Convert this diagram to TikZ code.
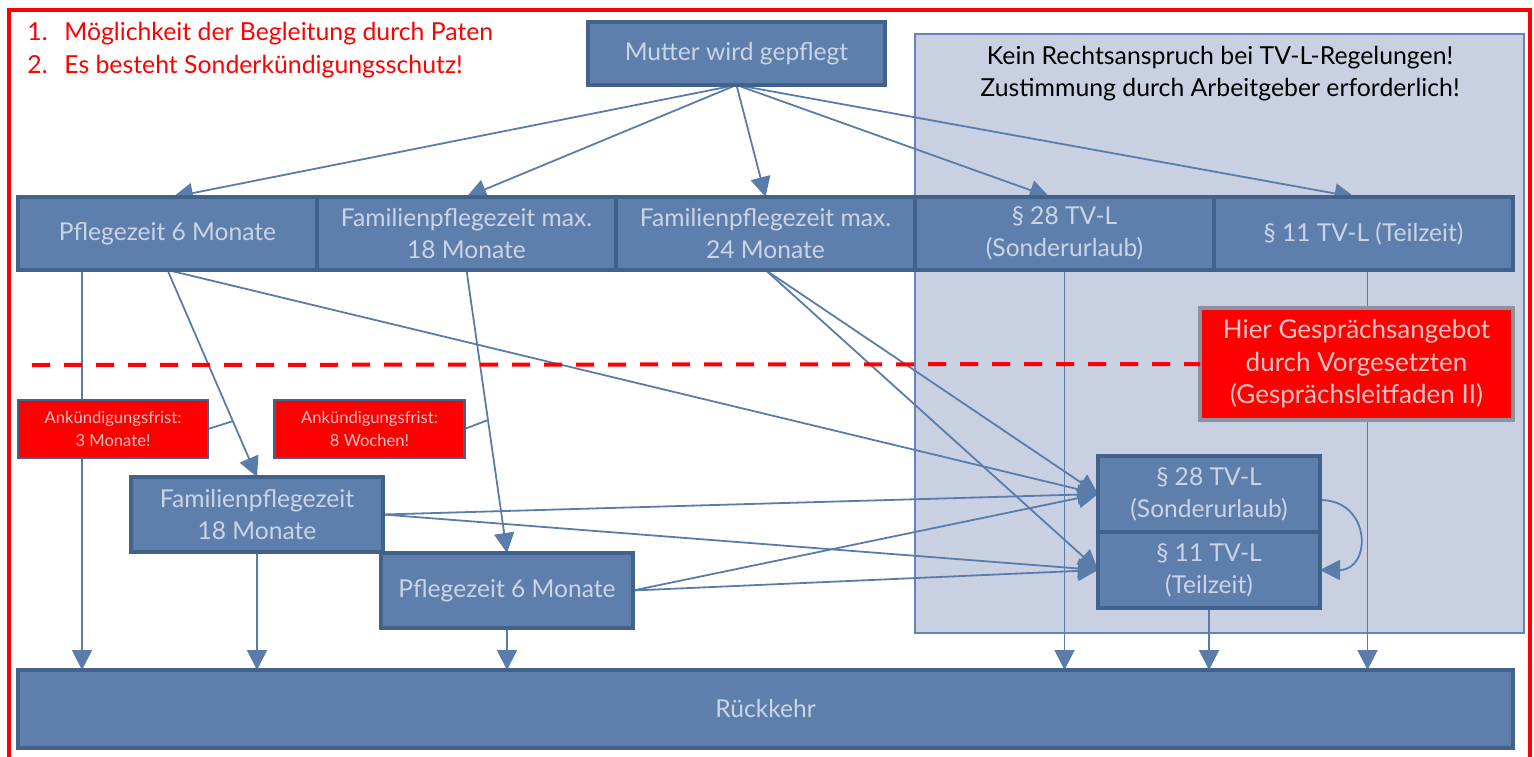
\documentclass[tikz,border=0pt]{standalone}
\usepackage{fontspec}
\setmainfont{Lato}
\usetikzlibrary{arrows.meta, positioning, calc}

\definecolor{boxfill}{HTML}{5E7FAB}
\definecolor{boxline}{HTML}{42618B}
\definecolor{boxtext}{HTML}{CAD4E6}
\definecolor{linecol}{HTML}{5A7CAB}
\definecolor{panelfill}{HTML}{C9D0E2}
\definecolor{panelline}{HTML}{6685B5}
\definecolor{notetext}{HTML}{F2C4C4}
\definecolor{talkline}{HTML}{8C939E}

\pgfdeclarelayer{panel}
\pgfdeclarelayer{links}
\pgfsetlayers{panel,links,main}

\tikzset{
    box/.style={draw=boxline, fill=boxfill, line width=1.6pt, outer sep=0pt, inner sep=0pt, text=boxtext, align=center, font=\fontsize{12.3}{16}\selectfont},
    row/.style={box, minimum width=149.5pt, minimum height=36.5pt},
    note/.style={box, fill=red, line width=1.4pt, minimum width=95pt, minimum height=29pt, text=notetext, font=\fontsize{8.3}{11.5}\selectfont},
    link/.style={draw=linecol, line width=0.9pt},
    arr/.style={link, -{Triangle[length=10pt, width=10pt]}},
}

\begin{document}
\begin{tikzpicture}[x=0.5pt, y=-0.5pt]
    \useasboundingbox (0,0) rectangle (1534,756);
    % Frame
    \draw[red, line width=2pt] (9,10) rectangle (1530,775);

    % Remarks top left
    \node[anchor=west, text=red, align=left, inner sep=0pt, font=\fontsize{12.4}{16.5}\selectfont] (list) at (27,50)
        {\makebox[18.5pt][l]{1.}Möglichkeit der Begleitung durch Paten\\\makebox[18.5pt][l]{2.}Es besteht Sonderkündigungsschutz!};

    % TV-L area
    \begin{pgfonlayer}{panel}
        \node[draw=panelline, fill=panelfill, line width=1.4pt, minimum width=304.5pt, minimum height=299.5pt] (panel) at (1219.5,333.5) {};
    \end{pgfonlayer}
    \node[align=center, inner sep=0pt, font=\fontsize{12.4}{16}\selectfont] (hint) at (1220,74)
        {Kein Rechtsanspruch bei TV-L-Regelungen!\\Zustimmung durch Arbeitgeber erforderlich!};

    % Start
    \node[box, minimum width=148.5pt, minimum height=31.5pt] (mutter) at (736.5,53.5) {Mutter wird gepflegt};

    % First choice
    \node[row] (pz) at (167.5,233.5) {Pflegezeit 6 Monate};
    \node[row, right=0pt of pz] (fpz18) {Familienpflegezeit max.\\18 Monate};
    \node[row, right=0pt of fpz18] (fpz24) {Familienpflegezeit max.\\24 Monate};
    \node[row, right=0pt of fpz24] (tv28) {§ 28 TV-L\\(Sonderurlaub)};
    \node[row, right=0pt of tv28] (tv11) {§ 11 TV-L (Teilzeit)};

    % Follow-ups
    \node[note] (frist1) at (113,429) {Ankündigungsfrist:\\3 Monate!};
    \node[note] (frist2) at (369.5,429) {Ankündigungsfrist:\\8 Wochen!};
    \node[box, minimum width=126pt, minimum height=37.5pt] (fpzneu) at (257,514.5) {Familienpflegezeit\\18 Monate};
    \node[box, minimum width=126pt, minimum height=37.5pt] (pzneu) at (507,590.5) {Pflegezeit 6 Monate};
    \node[box, minimum width=111pt, minimum height=38pt] (sonder) at (1209,494) {§ 28 TV-L\\(Sonderurlaub)};
    \node[box, minimum width=111pt, minimum height=38pt, below=0pt of sonder] (teil) {§ 11 TV-L\\(Teilzeit)};
    \node[box, fill=red, draw=talkline, text=notetext, minimum width=156.5pt, minimum height=56pt, font=\fontsize{13}{16.25}\selectfont] (talk) at (1356.5,364)
        {Hier Gesprächsangebot\\durch Vorgesetzten\\(Gesprächsleitfaden II)};

    % End
    \node[box, minimum width=747.5pt, minimum height=39pt] (rk) at (765.5,709) {Rückkehr};

    % Dashed limit
    \coordinate (cut) at (32,365);
    \draw[red, line width=2pt, dash pattern=on 9pt off 7pt] (cut) -- (talk.west);

    \begin{pgfonlayer}{links}
        % from Mutter
        \draw[arr] (mutter.south) -- ([xshift=2.75pt]pz.north);
        \draw[arr] (mutter.south) -- (fpz18.north);
        \draw[arr] (mutter.south) -- (fpz24.north);
        \draw[arr] (mutter.south) -- ([xshift=-7.5pt]tv28.north);
        \draw[arr] (mutter.south) -- ([xshift=-4.5pt]tv11.north);

        % changes with notice
        \draw[arr] (pz.south) -- (fpzneu.north) coordinate[pos=0.73] (k1);
        \draw[link] (frist1.east) -- (k1);
        \draw[arr] (fpz18.south) -- (pzneu.north) coordinate[pos=0.53] (k2);
        \draw[link] (frist2.east) -- (k2);

        % into the TV-L boxes
        \draw[arr] (pz.south) -- (sonder.west);
        \draw[arr] (fpz24.south) -- (sonder.west);
        \draw[arr] (fpz24.south) -- (teil.west);
        \draw[arr] (fpzneu.east) -- (sonder.west);
        \draw[arr] (fpzneu.east) -- (teil.west);
        \draw[arr] (pzneu.east) -- (sonder.west);
        \draw[arr] (pzneu.east) -- (teil.west);
        \draw[arr] ([yshift=-3pt]sonder.east) to[out=0, in=0, looseness=1.9] (teil.east);

        % back to work
        \coordinate (d1) at ([xshift=32pt]pz.south west);
        \coordinate (d2) at ([xshift=2pt]tv11.south);
        \draw[arr] (d1) -- (d1 |- rk.north);
        \draw[arr] (fpzneu.south) -- (fpzneu.south |- rk.north);
        \draw[arr] (pzneu.south) -- (pzneu.south |- rk.north);
        \draw[arr] (tv28.south) -- (tv28.south |- rk.north);
        \draw[arr] (teil.south) -- (teil.south |- rk.north);
        \draw[arr] (d2) -- (d2 |- rk.north);
    \end{pgfonlayer}
\end{tikzpicture}
\end{document}
